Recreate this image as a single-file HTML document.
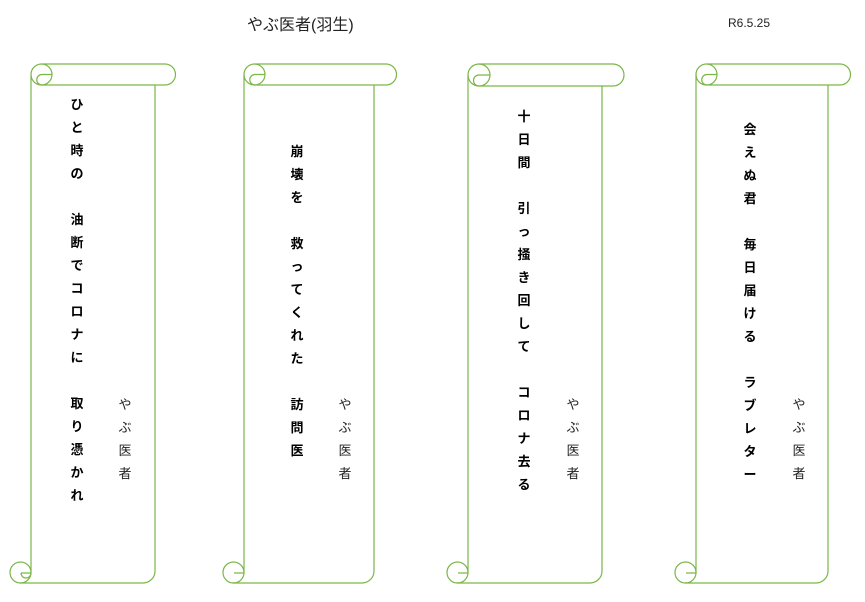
<!DOCTYPE html>
<html><head><meta charset="utf-8"><style>
body{margin:0;width:865px;height:602px;background:#fff;position:relative;overflow:hidden;font-family:"Liberation Sans","Noto Sans CJK JP",sans-serif;}
.c{position:absolute;width:20px;margin-left:-10px;text-align:center;font-size:13px;line-height:23px;color:#000;}
.b{font-weight:bold;}
.a{font-weight:normal;color:#222;}
</style></head><body>
<svg width="865" height="602" style="position:absolute;left:0;top:0" fill="none" stroke="#7ab648" stroke-width="1.2">
<g>
<path d="M42,64H165A10.5,10.5 0 0 1 165,85H42 M42,85A5.25,5.25 0 0 1 42,74.5H52.5 M31,75V572 M20,583H143A12,12 0 0 0 155,571V85 M31,562V573H21 M31,573A5,5 0 0 1 21,573"/>
<circle cx="41.5" cy="74.5" r="10.5"/><circle cx="20.5" cy="572.5" r="10.5"/>
</g>
<g>
<path d="M255,64H386A10.5,10.5 0 0 1 386,85H255 M255,85A5.25,5.25 0 0 1 255,74.5H265.5 M244,75V572 M233,583H362A12,12 0 0 0 374,571V85 M244,562V573H234"/>
<circle cx="254.5" cy="74.5" r="10.5"/><circle cx="233.5" cy="572.5" r="10.5"/>
</g>
<g>
<path d="M479,64H613A11,11 0 0 1 613,86H479 M479,86A5.5,5.5 0 0 1 479,75H490 M468,75V572 M457,583H590A12,12 0 0 0 602,571V86 M468,562V573H458"/>
<circle cx="479" cy="75" r="11"/><circle cx="457.5" cy="572.5" r="10.5"/>
</g>
<g>
<path d="M707,64H840A10.5,10.5 0 0 1 840,85H707 M707,85A5.25,5.25 0 0 1 707,74.5H717.5 M696,75V572 M685,583H816A12,12 0 0 0 828,571V85 M696,562V573H686"/>
<circle cx="706.5" cy="74.5" r="10.5"/><circle cx="685.5" cy="572.5" r="10.5"/>
</g>
</svg>
<div style="position:absolute;left:247px;top:11px;font-size:16px;color:#222;">やぶ医者(羽生)</div>
<div style="position:absolute;left:728px;top:16px;font-size:12px;color:#222;">R6.5.25</div>

<div class="c b" style="left:77px;top:93px">ひ<br>と<br>時<br>の<br>&nbsp;<br>油<br>断<br>で<br>コ<br>ロ<br>ナ<br>に<br>&nbsp;<br>取<br>り<br>憑<br>か<br>れ</div>
<div class="c a" style="left:125px;top:393px">や<br>ぶ<br>医<br>者</div>

<div class="c b" style="left:297px;top:140px">崩<br>壊<br>を<br>&nbsp;<br>救<br>っ<br>て<br>く<br>れ<br>た<br>&nbsp;<br>訪<br>問<br>医</div>
<div class="c a" style="left:345px;top:393px">や<br>ぶ<br>医<br>者</div>

<div class="c b" style="left:524px;top:105px">十<br>日<br>間<br>&nbsp;<br>引<br>っ<br>掻<br>き<br>回<br>し<br>て<br>&nbsp;<br>コ<br>ロ<br>ナ<br>去<br>る</div>
<div class="c a" style="left:573px;top:393px">や<br>ぶ<br>医<br>者</div>

<div class="c b" style="left:750px;top:118px">会<br>え<br>ぬ<br>君<br>&nbsp;<br>毎<br>日<br>届<br>け<br>る<br>&nbsp;<br>ラ<br>ブ<br>レ<br>タ<br>ー</div>
<div class="c a" style="left:799px;top:393px">や<br>ぶ<br>医<br>者</div>
</body></html>
